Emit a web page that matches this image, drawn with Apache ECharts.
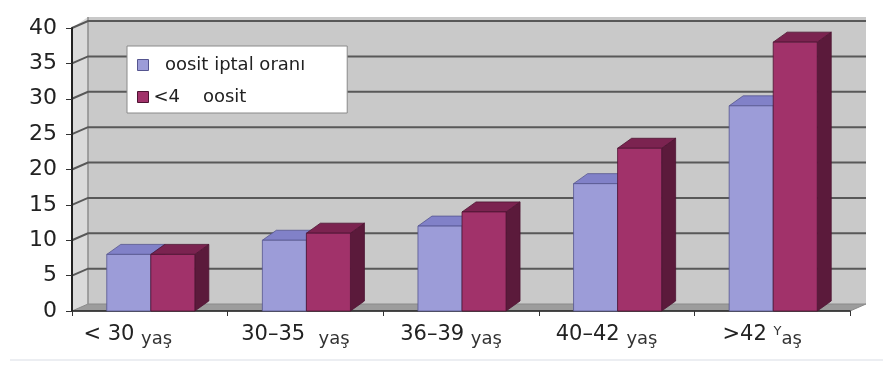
<!DOCTYPE html>
<html>
<head>
<meta charset="utf-8">
<script src="https://cdn.jsdelivr.net/npm/echarts@6/dist/echarts.min.js"></script>
<style>
  html, body { margin: 0; padding: 0; background: #fff; }
  #chart { width: 883px; height: 365px; }
</style>
</head>
<body>
<div id="chart"></div>
<script>
// age groups, last word is the "yaş" suffix
var categories = ["< 30 yaş", "30–35  yaş", "36–39 yaş", "40–42 yaş", ">42 Yaş"];
var cancelRate = [8, 10, 12, 18, 29];     // oosit iptal oranı
var underFour = [8, 11, 14, 23, 38];      // <4 oosit
var yTicks = [0, 5, 10, 15, 20, 25, 30, 35, 40];

var seriesNames = ["  oosit iptal oranı", "<4    oosit"];

// 3d look (pixels)
var WALL_DX = 16, WALL_DY = -7;
var BAR_DX = 14, BAR_DY = -10;

var chart = echarts.init(document.getElementById("chart"));

function wallItem(params, api) {
  var cs = params.coordSys;
  var x0 = cs.x, x1 = cs.x + cs.width, yb = cs.y + cs.height, yt = cs.y;
  var children = [];
  // back wall (a little higher than the top gridline)
  children.push({
    type: "rect",
    shape: { x: x0 + WALL_DX, y: yt + WALL_DY - 4, width: cs.width, height: cs.height + 4 },
    style: { fill: "#c9c9c9" }
  });
  // left wall
  children.push({
    type: "polygon",
    shape: { points: [[x0, yt], [x0 + WALL_DX, yt + WALL_DY - 4], [x0 + WALL_DX, yb + WALL_DY], [x0, yb]] },
    style: { fill: "#dadada" }
  });
  // floor
  children.push({
    type: "polygon",
    shape: { points: [[x0, yb], [x1, yb], [x1 + WALL_DX, yb + WALL_DY], [x0 + WALL_DX, yb + WALL_DY]] },
    style: { fill: "#9c9c9c", stroke: "#8a8a8a", lineWidth: 1 }
  });
  // inner edge of the left wall
  children.push({
    type: "line",
    shape: { x1: x0 + WALL_DX, y1: yt + WALL_DY - 4, x2: x0 + WALL_DX, y2: yb + WALL_DY },
    style: { stroke: "#8c8c8c", lineWidth: 1.5 }
  });
  yTicks.forEach(function (v) {
    if (v === 0) return;
    var y = api.coord([0, v])[1];
    children.push({
      type: "polyline",
      shape: { points: [[x0, y], [x0 + WALL_DX, y + WALL_DY], [x1 + WALL_DX, y + WALL_DY]] },
      style: { stroke: "#585858", lineWidth: 2, fill: null }
    });
  });
  return { type: "group", children: children };
}

function barItem(side, colors) {
  return function (params, api) {
    var cat = api.value(0), v = api.value(1);
    var base = api.coord([cat, 0]);
    var top = api.coord([cat, v]);
    var w = api.size([1, 0])[0] * 0.283;
    var x = side < 0 ? base[0] - w + 1 : base[0] + 1;
    var yt = top[1], yb = base[1];
    return {
      type: "group",
      children: [
        {
          type: "polygon",
          shape: { points: [[x + w, yt], [x + w + BAR_DX, yt + BAR_DY], [x + w + BAR_DX, yb + BAR_DY], [x + w, yb]] },
          style: { fill: colors.side, stroke: colors.edge, lineWidth: 0.8 }
        },
        {
          type: "polygon",
          shape: { points: [[x, yt], [x + w, yt], [x + w + BAR_DX, yt + BAR_DY], [x + BAR_DX, yt + BAR_DY]] },
          style: { fill: colors.top, stroke: colors.edge, lineWidth: 0.8 }
        },
        {
          type: "rect",
          shape: { x: x, y: yt, width: w, height: yb - yt },
          style: { fill: colors.front, stroke: colors.edge, lineWidth: 0.8 }
        }
      ]
    };
  };
}

var blue = { front: "#9c9cd8", top: "#8181c8", side: "#5c5c99", edge: "#55558f" };
var red = { front: "#a1326a", top: "#7b2350", side: "#5b1a3b", edge: "#4e1432" };

chart.setOption({
  animation: false,
  backgroundColor: "#ffffff",
  grid: { left: 72, right: 33, top: 28, bottom: 54 },
  graphic: [{
    type: "line",
    shape: { x1: 10, y1: 360, x2: 883, y2: 360 },
    style: { stroke: "#eceef2", lineWidth: 2 },
    silent: true
  }],
  legend: {
    orient: "vertical",
    left: 127,
    top: 46,
    padding: [9, 42, 6, 10],
    itemGap: 12,
    itemWidth: 11,
    itemHeight: 11,
    backgroundColor: "#ffffff",
    borderColor: "#8a8a8a",
    borderWidth: 1,
    data: [
      { name: seriesNames[0], icon: "rect", itemStyle: { color: blue.front, borderColor: blue.edge, borderWidth: 1 } },
      { name: seriesNames[1], icon: "rect", itemStyle: { color: red.front, borderColor: red.edge, borderWidth: 1 } }
    ],
    textStyle: {
      fontFamily: "DejaVu Sans",
      fontSize: 18,
      color: "#222",
      lineHeight: 20
    }
  },
  xAxis: {
    type: "category",
    data: categories,
    axisLine: { lineStyle: { color: "#222", width: 1.5 } },
    axisTick: { show: true, length: 5, lineStyle: { color: "#333" } },
    axisLabel: {
      margin: 11,
      padding: [0, 20, 0, 0],
      formatter: function (val, idx) {
        var m = val.match(/^(.*?)(\s+)(yaş|Yaş)$/);
        if (!m) return val;
        var s = idx === 0 ? "s0" : "s";
        if (m[3] === "Yaş") return "{n|" + m[1] + m[2] + "}{u|Y}{" + s + "|aş}";
        return "{n|" + m[1] + m[2] + "}{" + s + "|" + m[3] + "}";
      },
      rich: {
        n: { fontFamily: "DejaVu Sans", fontSize: 21, color: "#222" },
        s: { fontFamily: "DejaVu Sans", fontSize: 18, color: "#333", padding: [8, 0, 0, 0] },
        s0: { fontFamily: "DejaVu Sans", fontSize: 18, color: "#333", padding: [8, 24, 0, 0] },
        u: { fontFamily: "DejaVu Sans", fontSize: 13, color: "#333", padding: [0, 0, 6, 0] }
      }
    },
    splitLine: { show: false }
  },
  yAxis: {
    type: "value",
    min: 0,
    max: 40,
    interval: 5,
    axisLine: { show: true, lineStyle: { color: "#222", width: 2 } },
    axisTick: { show: true, length: 6, lineStyle: { color: "#333" } },
    axisLabel: { margin: 15, fontFamily: "DejaVu Sans", fontSize: 22, color: "#222" },
    splitLine: { show: false }
  },
  series: [
    {
      name: "wall",
      type: "custom",
      z: 0,
      silent: true,
      renderItem: wallItem,
      data: [[0, 0]]
    },
    {
      name: seriesNames[0],
      type: "custom",
      z: 2,
      itemStyle: { color: blue.front },
      renderItem: barItem(-1, blue),
      encode: { x: 0, y: 1 },
      data: cancelRate.map(function (v, i) { return [i, v]; })
    },
    {
      name: seriesNames[1],
      type: "custom",
      z: 3,
      itemStyle: { color: red.front },
      renderItem: barItem(1, red),
      encode: { x: 0, y: 1 },
      data: underFour.map(function (v, i) { return [i, v]; })
    }
  ]
});
</script>
</body>
</html>
